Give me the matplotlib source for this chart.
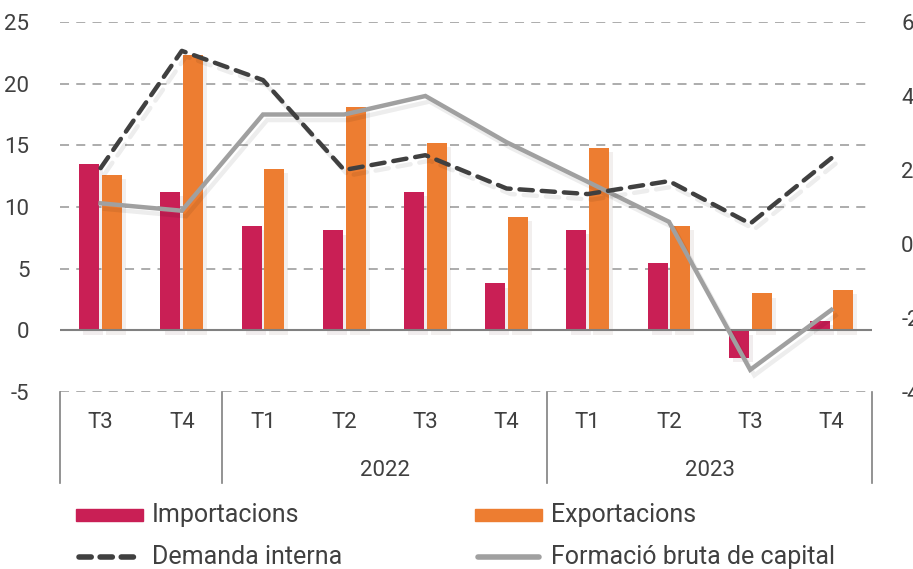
import matplotlib
matplotlib.use("Agg")
import matplotlib.pyplot as plt
import matplotlib.patheffects as pe
from matplotlib.patches import Rectangle
from matplotlib.lines import Line2D
from matplotlib.transforms import blended_transform_factory
import numpy as np

plt.rcParams['font.family'] = ['Roboto', 'DejaVu Sans']
plt.rcParams['axes.unicode_minus'] = False

quarters = ['T3', 'T4', 'T1', 'T2', 'T3', 'T4', 'T1', 'T2', 'T3', 'T4']
years = ['', '2022', '2023']
year_groups = [(0, 1), (2, 5), (6, 9)]

importacions = [13.5, 11.25, 8.5, 8.1, 11.2, 3.8, 8.15, 5.45, -2.25, 0.75]
exportacions = [12.6, 22.3, 13.1, 18.1, 15.2, 9.2, 14.8, 8.5, 3.0, 3.25]
demanda_interna = [2.05, 5.22, 4.43, 2.0, 2.4, 1.5, 1.35, 1.7, 0.55, 2.32]
formacio_capital = [1.1, 0.9, 3.5, 3.5, 4.0, 2.75, 1.68, 0.6, -3.4, -1.78]

c_imp = '#C91F55'
c_exp = '#ED7D31'
c_dem = '#404040'
c_fbc = '#A0A0A0'
c_txt = '#404040'
c_grid = '#A6A6A6'
fs = 16
fs_leg = 18

W, H = 913, 569
fig = plt.figure(figsize=(W / 100, H / 100), dpi=100)

def fx(px):
    return px / W

def fy(py):
    return (H - py) / H

ax = fig.add_axes([fx(60), fy(392), fx(872) - fx(60), fy(22) - fy(392)])
ax2 = ax.twinx()

x = np.arange(len(quarters))
shadow = [pe.SimplePatchShadow(offset=(3, -3), alpha=0.07), pe.Normal()]

ax.bar(x - 0.14, importacions, width=0.245, color=c_imp, zorder=3,
       path_effects=shadow)
ax.bar(x + 0.14, exportacions, width=0.245, color=c_exp, zorder=3,
       path_effects=shadow)

ax.set_ylim(-5, 25)
ax.set_xlim(-0.5, len(quarters) - 0.5)
yt = np.arange(-5, 26, 5)
ax.set_yticks(yt)
for v in yt:
    if v == 0:
        ax.axhline(v, color='#808080', lw=1.5, zorder=4)
    else:
        ax.axhline(v, color=c_grid, lw=1.3, ls=(0, (5, 4)), zorder=1)
ax.set_xticks([])
ax.tick_params(axis='y', length=0, pad=22, labelsize=fs, labelcolor=c_txt)
for s in ax.spines.values():
    s.set_visible(False)

ax2.set_ylim(-4, 6)
ax2.set_yticks(np.arange(-4, 7, 2))
ax2.tick_params(axis='y', length=0, pad=21, labelsize=fs, labelcolor=c_txt)
for s in ax2.spines.values():
    s.set_visible(False)

line_shadow = [pe.SimpleLineShadow(offset=(3, -4), alpha=0.07), pe.Normal()]
ax2.plot(x, formacio_capital, color=c_fbc, lw=3.2, zorder=5,
         path_effects=line_shadow, solid_joinstyle='miter')
ax2.plot(x, demanda_interna, color=c_dem, lw=3.2, ls=(0, (3, 2)),
         dash_capstyle='round', zorder=6, path_effects=line_shadow)

# category axis below plot
tr = blended_transform_factory(ax.transData, fig.transFigure)
for b in [-0.5, 1.5, 5.5, 9.5]:
    ax.add_line(Line2D([b, b], [fy(392), fy(483)], transform=tr,
                       color='#808080', lw=1.2, clip_on=False))
for i, q in enumerate(quarters):
    ax.text(i, fy(423), q, transform=tr, ha='center', va='center',
            fontsize=fs, color=c_txt)
for yl, (a, b) in zip(years, year_groups):
    ax.text((a + b) / 2, fy(470), yl, transform=tr, ha='center',
            va='center', fontsize=fs, color=c_txt)

# legend
def legend_patch(px0, py, color, label):
    fig.patches.append(Rectangle((fx(px0), fy(py + 6)), fx(67), 12 / H,
                                 transform=fig.transFigure, color=color))
    fig.text(fx(px0 + 76), fy(py), label, ha='left', va='center',
             fontsize=fs_leg, color=c_txt)

def legend_line(px0, py, color, ls, label):
    fig.add_artist(Line2D([fx(px0 + 3), fx(px0 + 64)], [fy(py), fy(py)],
                          color=color, lw=4, ls=ls,
                          dash_capstyle='round', solid_capstyle='round'))
    fig.text(fx(px0 + 76), fy(py), label, ha='left', va='center',
             fontsize=fs_leg, color=c_txt)

legend_patch(76, 515, c_imp, 'Importacions')
legend_patch(475, 515, c_exp, 'Exportacions')
legend_line(76, 557, c_dem, (0, (2.2, 1.6)), 'Demanda interna')
legend_line(475, 557, c_fbc, '-', 'Formació bruta de capital')

fig.savefig('out.png', dpi=100)
